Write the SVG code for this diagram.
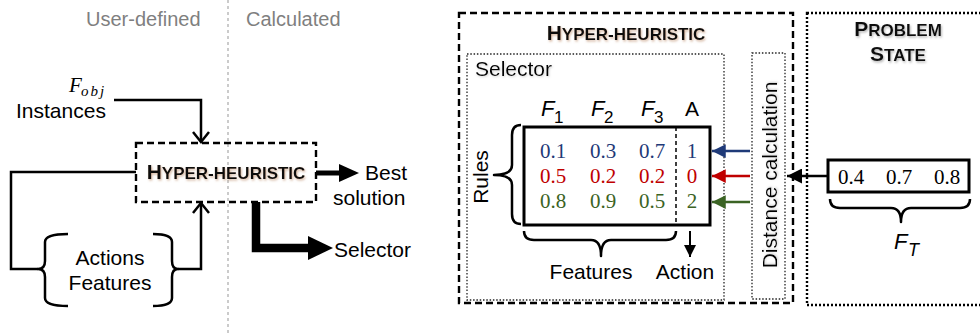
<svg xmlns="http://www.w3.org/2000/svg" width="980" height="333" viewBox="0 0 980 333">
<defs>
<style>
.sans{font-family:"Liberation Sans",Arial,sans-serif;}
.serif{font-family:"Liberation Serif","Times New Roman",serif;}
.lbl{font-family:"Liberation Sans",Arial,sans-serif;font-size:21px;fill:#000;}
.gray{font-family:"Liberation Sans",Arial,sans-serif;font-size:20px;fill:#7f7f7f;}
.title{font-family:"Liberation Sans",Arial,sans-serif;font-weight:bold;fill:#111;}
.num{font-family:"Liberation Serif","Times New Roman",serif;font-size:21px;text-anchor:middle;}
.ln{fill:none;stroke:#000;stroke-width:2.5;}
.dotbox{fill:none;stroke:#222;stroke-width:1.3;stroke-dasharray:1.5,1.8;}
.dashbox{fill:none;stroke:#000;stroke-width:2.4;stroke-dasharray:7,4;}
.brace{fill:none;stroke:#000;stroke-width:2.5;stroke-linejoin:round;}
.blue{fill:#1f3a78;}
.red{fill:#c00000;}
.green{fill:#3b6324;}
</style>
<filter id="shb" x="-10%" y="-30%" width="120%" height="160%">
<feDropShadow dx="1" dy="1.5" stdDeviation="1" flood-color="#b07850" flood-opacity="0.55"/>
</filter>
<filter id="shg" x="-10%" y="-30%" width="120%" height="160%">
<feDropShadow dx="1" dy="1.5" stdDeviation="1" flood-color="#808080" flood-opacity="0.6"/>
</filter>
<filter id="shl" x="-10%" y="-30%" width="120%" height="160%">
<feDropShadow dx="0.8" dy="1" stdDeviation="0.8" flood-color="#a0a0a0" flood-opacity="0.5"/>
</filter>
<marker id="ahK" viewBox="0 0 10 10" refX="10" refY="5" markerWidth="6" markerHeight="6" markerUnits="strokeWidth" orient="auto">
<path d="M0,0 L10,5 L0,10 z" fill="#000"/>
</marker>
<marker id="ahB" viewBox="0 0 10 10" refX="10" refY="5" markerWidth="5.5" markerHeight="5.5" markerUnits="strokeWidth" orient="auto">
<path d="M0,0 L10,5 L0,10 z" fill="#1f3a78"/>
</marker>
<marker id="ahR" viewBox="0 0 10 10" refX="10" refY="5" markerWidth="5.5" markerHeight="5.5" markerUnits="strokeWidth" orient="auto">
<path d="M0,0 L10,5 L0,10 z" fill="#c00000"/>
</marker>
<marker id="ahG" viewBox="0 0 10 10" refX="10" refY="5" markerWidth="5.5" markerHeight="5.5" markerUnits="strokeWidth" orient="auto">
<path d="M0,0 L10,5 L0,10 z" fill="#3b6324"/>
</marker>
</defs>
<rect width="980" height="333" fill="#fff"/>

<!-- divider -->
<line x1="228" y1="0" x2="228" y2="333" stroke="#b0b0b0" stroke-width="1.3" stroke-dasharray="3,3"/>
<text class="gray" x="86" y="26">User-defined</text>
<text class="gray" x="246" y="26">Calculated</text>

<!-- Left panel nodes -->
<g id="inputs">
<text class="serif" x="69" y="92" font-size="21" font-style="italic">F</text>
<text class="serif" x="81" y="96" font-size="15" font-style="italic" letter-spacing="2">obj</text>
<text class="lbl" x="16" y="118">Instances</text>
</g>
<g id="hh-node">
<rect class="dashbox" x="136" y="143" width="180" height="59" stroke-width="2"/>
<text class="title" x="226" y="179" text-anchor="middle" filter="url(#shb)"><tspan font-size="21">H</tspan><tspan font-size="17">YPER-HEURISTIC</tspan></text>
</g>
<g id="actions-features">
<path class="brace" d="M68,234 Q45,234 45,242 L45,261 Q45,269 38,269 Q45,269 45,277 L45,298 Q45,306 68,306"/>
<path class="brace" d="M153,234 Q172,234 172,242 L172,261 Q172,269 178,269 Q172,269 172,277 L172,298 Q172,306 153,306"/>
<text class="lbl" x="110" y="265" text-anchor="middle">Actions</text>
<text class="lbl" x="110" y="290" text-anchor="middle">Features</text>
</g>
<g id="best-solution">
<text class="lbl" x="365" y="180">Best</text>
<text class="lbl" x="333" y="205">solution</text>
</g>
<g id="selector-out">
<text class="lbl" x="334" y="257">Selector</text>
</g>

<!-- Left panel connectors -->
<g id="left-connectors">
<path class="ln" d="M114,100 L201,100 L201,142"/>
<path class="ln" d="M193,132 L201,142 L209,132"/>
<path class="ln" d="M136,172 L11,172 L11,269 L38,269"/>
<path class="ln" d="M178,269 L201,269 L201,203"/>
<path class="ln" d="M193,213 L201,203 L209,213"/>
<line x1="316" y1="173" x2="342" y2="173" stroke="#000" stroke-width="5"/>
<path d="M339,164 L359,173 L339,182 z" fill="#000"/>
<path d="M256,202 L256,248 L310,248" fill="none" stroke="#000" stroke-width="8.5"/>
<path d="M308,236 L333,248 L308,260 z" fill="#000"/>
</g>

<!-- Right panel -->
<g id="hyper-heuristic">
<rect class="dashbox" x="459" y="13" width="334" height="290"/>
<text class="title" x="626" y="40" text-anchor="middle" filter="url(#shb)"><tspan font-size="21">H</tspan><tspan font-size="17">YPER-HEURISTIC</tspan></text>
</g>
<g id="selector">
<rect class="dotbox" x="467" y="54" width="257" height="246"/>
<text class="lbl" x="475" y="76" filter="url(#shl)">Selector</text>
</g>
<g id="rules-table">
<text class="sans" x="541" y="116" font-size="22" font-style="italic">F</text>
<text class="sans" x="554" y="123" font-size="17">1</text>
<text class="sans" x="591" y="116" font-size="22" font-style="italic">F</text>
<text class="sans" x="604" y="123" font-size="17">2</text>
<text class="sans" x="641" y="116" font-size="22" font-style="italic">F</text>
<text class="sans" x="654" y="123" font-size="17">3</text>
<text class="sans" x="692" y="116" font-size="21" text-anchor="middle">A</text>
<rect x="524" y="127" width="186" height="98" fill="none" stroke="#000" stroke-width="3"/>
<line x1="676" y1="127" x2="676" y2="225" stroke="#000" stroke-width="1.5" stroke-dasharray="4,3"/>
<g class="blue">
<text class="num" x="553" y="158">0.1</text><text class="num" x="603" y="158">0.3</text><text class="num" x="652" y="158">0.7</text><text class="num" x="692" y="158">1</text>
</g>
<g class="red">
<text class="num" x="553" y="183">0.5</text><text class="num" x="603" y="183">0.2</text><text class="num" x="652" y="183">0.2</text><text class="num" x="692" y="183">0</text>
</g>
<g class="green">
<text class="num" x="553" y="208">0.8</text><text class="num" x="603" y="208">0.9</text><text class="num" x="652" y="208">0.5</text><text class="num" x="692" y="208">2</text>
</g>
</g>
<g id="rules-label">
<path class="brace" d="M521,125 Q512,125 512,135 L512,165 Q512,175 494,175 Q512,175 512,185 L512,214 Q512,224 521,224"/>
<text class="lbl" x="0" y="0" font-size="20" text-anchor="middle" transform="translate(488,177) rotate(-90)">Rules</text>
</g>
<g id="features-label">
<path class="brace" d="M524,231 Q524,240 534,240 L591,240 Q601,240 601,256 Q601,240 611,240 L666,240 Q676,240 676,231"/>
<text class="lbl" x="591" y="279" text-anchor="middle">Features</text>
</g>
<g id="action-label">
<text class="lbl" x="685" y="279" text-anchor="middle">Action</text>
</g>
<g id="distance-calculation">
<rect class="dotbox" x="752" y="53" width="33" height="246"/>
<text class="lbl" x="0" y="0" text-anchor="middle" transform="translate(777,175) rotate(-90)" filter="url(#shl)">Distance calculation</text>
</g>
<g id="problem-state">
<rect x="807" y="13" width="185" height="292" fill="none" stroke="#000" stroke-width="2.4" stroke-dasharray="2,2"/>
<text class="title" x="898" y="35.5" text-anchor="middle" filter="url(#shg)"><tspan font-size="21">P</tspan><tspan font-size="17">ROBLEM</tspan></text>
<text class="title" x="898" y="61" text-anchor="middle" filter="url(#shg)"><tspan font-size="21">S</tspan><tspan font-size="17">TATE</tspan></text>
<rect x="828" y="160" width="141" height="32" fill="#fff" stroke="#000" stroke-width="3"/>
<text class="num" x="851" y="184" fill="#000">0.4</text>
<text class="num" x="899" y="184" fill="#000">0.7</text>
<text class="num" x="947" y="184" fill="#000">0.8</text>
<path class="brace" d="M830,199 Q830,208 840,208 L891,208 Q901,208 901,222 Q901,208 911,208 L960,208 Q970,208 970,199"/>
<text class="sans" x="894" y="249" font-size="22" font-style="italic">F</text>
<text class="sans" x="908" y="256" font-size="18" font-style="italic">T</text>
</g>

<!-- Right panel connectors -->
<g id="right-connectors">
<line x1="750" y1="151" x2="712" y2="151" stroke="#1f3a78" stroke-width="2.5" marker-end="url(#ahB)"/>
<line x1="750" y1="176" x2="712" y2="176" stroke="#c00000" stroke-width="2.5" marker-end="url(#ahR)"/>
<line x1="750" y1="202" x2="712" y2="202" stroke="#3b6324" stroke-width="2.5" marker-end="url(#ahG)"/>
<line x1="828" y1="176" x2="787" y2="176" stroke="#000" stroke-width="2.5" marker-end="url(#ahK)"/>
<line x1="690" y1="231" x2="690" y2="257" stroke="#000" stroke-width="2" marker-end="url(#ahK)"/>
</g>
</svg>
